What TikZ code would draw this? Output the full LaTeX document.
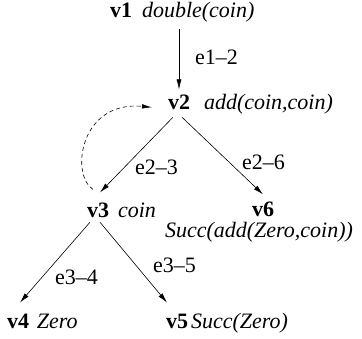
\documentclass[tikz,border=0pt]{standalone}
\usepackage{fontspec}
\setmainfont{Liberation Serif}
\usetikzlibrary{arrows.meta}
\begin{document}
\begin{tikzpicture}[x=1pt,y=-1pt,
  vert/.style={inner sep=0pt,outer sep=0pt,anchor=base west,font=\fontsize{22}{26}\selectfont\bfseries},
  term/.style={inner sep=0pt,outer sep=0pt,anchor=base west,font=\fontsize{22}{26}\selectfont\itshape},
  elab/.style={inner sep=0pt,outer sep=0pt,anchor=base west,font=\fontsize{22}{26}\selectfont},
  edge/.style={line width=0.6pt,-{Latex[length=10pt,width=5pt]}},
  back/.style={line width=0.6pt,dash pattern=on 4pt off 3pt,-{Latex[length=10pt,width=4.5pt]}}]
\useasboundingbox (0,0) rectangle (362,339);
% vertices
\node[vert] (v1) at (110,18) {v1};
\node[term] (t1) at (142,18) {double(coin)};
\node[vert] (v2) at (168,110) {v2};
\node[term] (t2) at (204,110) {add(coin,coin)};
\node[vert] (v3) at (87,218) {v3};
\node[term] (t3) at (118,218) {coin};
\node[vert] (v6) at (252,217) {v6};
\node[term] (t6) at (165,237.5) {Succ(add(Zero,coin))};
\node[vert] (v4) at (7,329) {v4};
\node[term] (t4) at (37,329) {Zero};
\node[vert] (v5) at (166,329) {v5};
\node[term] (t5) at (191,329) {Succ(Zero)};
% edge labels
\node[elab] (l12) at (195,65) {e1–2};
\node[elab] (l23) at (135,175) {e2–3};
\node[elab] (l26) at (242,170) {e2–6};
\node[elab] (l34) at (55,285) {e3–4};
\node[elab] (l35) at (153,273) {e3–5};
% edges
\draw[edge,shorten <=11pt,shorten >=6pt] (v2 |- v1.south) -- (v2.north);
\draw[edge] ([xshift=-6pt,yshift=-7pt]v2.south) -- ([xshift=2pt,yshift=11pt]v3.north);
\draw[edge] ([xshift=3pt,yshift=-7pt]v2.south) -- ([xshift=0pt,yshift=8pt]v6.north);
\draw[edge] ([xshift=-8pt,yshift=-4pt]v3.south) -- ([xshift=2pt,yshift=12pt]v4.north);
\draw[edge] ([xshift=2pt,yshift=-4pt]v3.south) -- ([xshift=-10pt,yshift=12pt]v5.north);
\draw[back] ([xshift=-5pt,yshift=14pt]v3.north) .. controls +(-23,-15) and +(-72,-7) .. ([xshift=-16pt,yshift=-4.5pt]v2.west);
\end{tikzpicture}
\end{document}
